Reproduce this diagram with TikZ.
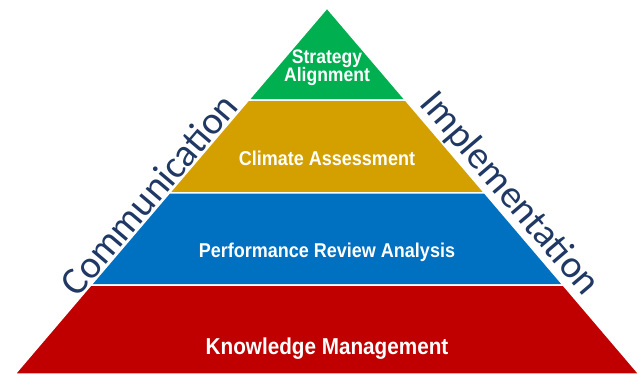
\documentclass[tikz,border=0pt]{standalone}
\usepackage{fontspec}
\usepackage{xcolor}
\usetikzlibrary{calc}
\newfontfamily\narrowfont[FakeStretch=0.9]{Liberation Sans}
\newfontfamily\sidefont{Carlito}
\definecolor{tipgreen}{HTML}{00B050}
\definecolor{climategold}{HTML}{D4A000}
\definecolor{reviewblue}{HTML}{0070C0}
\definecolor{baseRed}{HTML}{C00000}
\definecolor{sidenavy}{HTML}{1F3864}

\begin{document}
\begin{tikzpicture}[x=1pt,y=-1pt,
  layer/.style={draw=white,line width=1.5pt},
  lbl/.style={text=white,inner sep=0pt,anchor=base,font=\narrowfont\bfseries},
  side/.style={text=sidenavy,inner sep=0pt,font=\sidefont\fontsize{39}{39}\selectfont}]
\useasboundingbox (0,0) rectangle (640,374);
\coordinate (apex) at (327,8);
\coordinate (bl) at (15,374);
\coordinate (br) at (639,374);
% layer edges
\coordinate (l1) at ($(apex)!0.252!(bl)$);
\coordinate (r1) at ($(apex)!0.252!(br)$);
\coordinate (l2) at ($(apex)!0.505!(bl)$);
\coordinate (r2) at ($(apex)!0.505!(br)$);
\coordinate (l3) at ($(apex)!0.757!(bl)$);
\coordinate (r3) at ($(apex)!0.757!(br)$);
\fill[tipgreen,layer] (apex) -- (r1) -- (l1) -- cycle;
\fill[climategold,layer] (l1) -- (r1) -- (r2) -- (l2) -- cycle;
\fill[reviewblue,layer] (l2) -- (r2) -- (r3) -- (l3) -- cycle;
\fill[baseRed,layer] (l3) -- (r3) -- (br) -- (bl) -- cycle;
\node[lbl,font=\narrowfont\bfseries\fontsize{19.5}{20}\selectfont] (strategy) at (327,64) {Strategy};
\node[lbl,font=\narrowfont\bfseries\fontsize{19.5}{20}\selectfont] (alignment) at (327,82) {Alignment};
\node[lbl,font=\narrowfont\bfseries\fontsize{20}{20}\selectfont] (climate) at (327,166) {Climate Assessment};
\node[lbl,font=\narrowfont\bfseries\fontsize{20}{20}\selectfont] (review) at (327,258) {Performance Review Analysis};
\node[lbl,font=\narrowfont\bfseries\fontsize{23}{23}\selectfont] (knowledge) at (327,354) {Knowledge Management};
% side labels
\path (bl) -- (apex) node[side,pos=0.465,sloped,above=1pt] (communication) {Communication};
\path (apex) -- (br) node[side,pos=0.54,sloped,above=1pt] (implementation) {Implementation};
\end{tikzpicture}
\end{document}
